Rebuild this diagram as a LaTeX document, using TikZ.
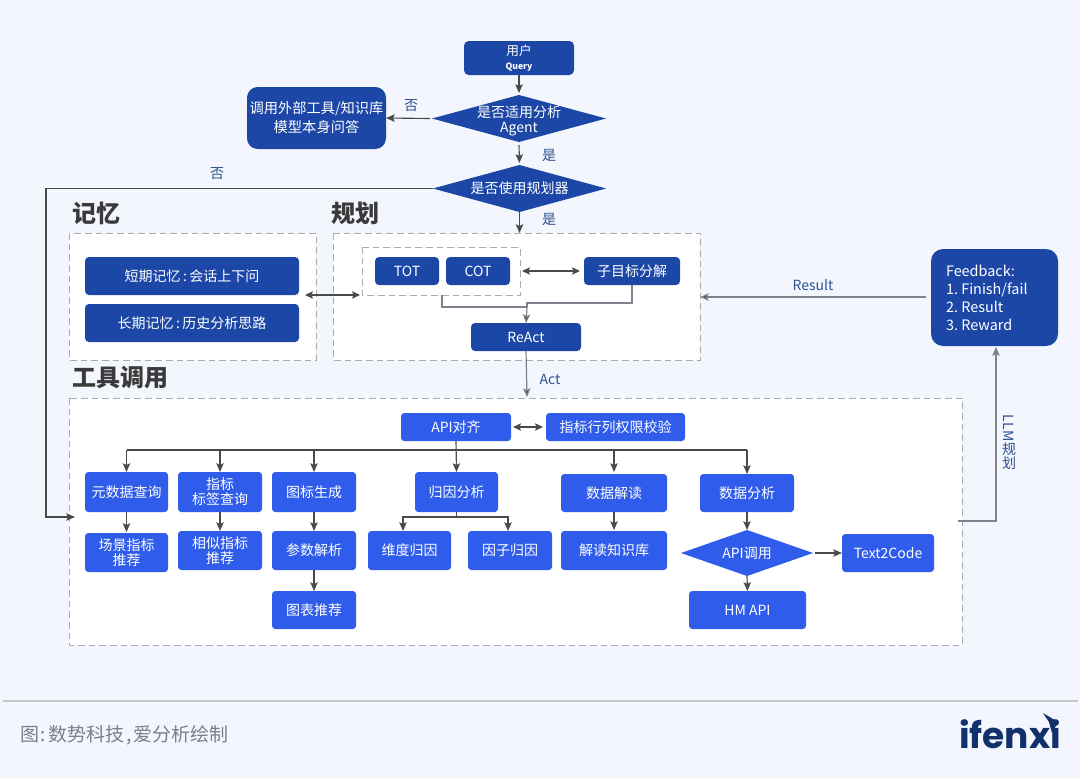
\documentclass[tikz,border=0pt]{standalone}
\usepackage{fontspec}
\setmainfont{Noto Sans CJK SC}
\newfontfamily\logofont{Poppins}
\usetikzlibrary{arrows.meta,shapes.geometric,calc}
\definecolor{bgc}{HTML}{F3F7FD}
\definecolor{deep}{HTML}{1D47A6}
\definecolor{bright}{HTML}{2F5CEB}
\definecolor{linec}{HTML}{4A4A4A}
\definecolor{softline}{HTML}{7D828C}
\definecolor{labelc}{HTML}{2F4F8F}
\definecolor{dashc}{HTML}{A9ABAE}
\definecolor{headc}{HTML}{3A3A3A}
\definecolor{footc}{HTML}{7A7F88}
\definecolor{logoc}{HTML}{12306B}
\newcommand{\fsize}[2]{\fontsize{#1}{#2}\selectfont}
\newcommand{\bx}[7]{% name, x1,y1,x2,y2, style, text
  \pgfmathsetmacro{\bw}{#4-#2}\pgfmathsetmacro{\bh}{#5-#3}
  \node[#6,minimum width=\bw*0.75pt,minimum height=\bh*0.75pt] (#1) at ({(#2+#4)/2},{(#3+#5)/2}) {#7};}
\tikzset{
  x=0.75pt,y=-0.75pt,
  every node/.style={inner sep=0pt,outer sep=0pt},
  txt/.style={text=white,align=center,font=\fsize{10.5pt}{11.2pt}},
  deepbox/.style={txt,fill=deep,rounded corners=3pt},
  deepbig/.style={txt,fill=deep,rounded corners=8pt,font=\fsize{10.7pt}{14.2pt}},
  fbbox/.style={text=white,fill=deep,rounded corners=9pt,align=left,text width=72.75pt,font=\fsize{10.8pt}{13.5pt}},
  brightbox/.style={txt,fill=bright,rounded corners=2.5pt},
  decision/.style={diamond},
  zone/.style={draw=dashc,fill=white,dash pattern=on 5pt off 3pt,line width=0.7pt},
  subzone/.style={draw=dashc,dash pattern=on 5pt off 3pt,line width=0.7pt},
  conn/.style={draw=linec,line width=0.85pt,-{Stealth[length=6.5pt,width=5.5pt,inset=1.2pt]}},
  plain/.style={draw=linec,line width=0.85pt},
  softplain/.style={draw=softline,line width=0.9pt},
  softconn/.style={draw=softline,line width=0.9pt,-{Stealth[length=6.5pt,width=5.5pt,inset=1.2pt,fill=linec]}},
  both/.style={draw=linec,line width=0.85pt,{Stealth[length=6pt,width=5.5pt,inset=1.2pt]}-{Stealth[length=6pt,width=5.5pt,inset=1.2pt]}},
  soft/.style={draw=softline,line width=1.1pt,-{Stealth[length=6.5pt,width=5.5pt,inset=1.2pt]}},
  tag/.style={text=labelc,font=\fsize{10.5pt}{11.2pt}},
  head/.style={text=headc,font=\bfseries\fsize{18pt}{20pt},anchor=west},
}
\begin{document}
\begin{tikzpicture}
\useasboundingbox (0,0) rectangle (1080,778);
\fill[bgc] (0,0) rectangle (1080,778);

% zones
\draw[zone] (69,233) rectangle (316,360);
\draw[zone] (333,233) rectangle (700,360);
\draw[zone] (69,398) rectangle (962,645);
\draw[subzone] (362,247) rectangle (520,295);
\coordinate (innerS) at (442,295);

\node[head] (hMem) at (72,213) {记忆};
\node[head] (hPlan) at (331,213) {规划};
\node[head] (hTool) at (72,378) {工具调用};

% top flow
\bx{user}{464}{41}{574}{75}{txt,fill=deep,rounded corners=3.5pt,font=\fsize{9.5pt}{12pt}}{用户\\[-2pt]{\fsize{6.5pt}{8pt}\bfseries Query}}
\node[decision,fill=deep,minimum width=130.5pt,minimum height=35.25pt] (d1) at (519,118.5) {};
\node[txt,yshift=-1.5pt] (d1t) at (d1.center) {是否适用分析\\Agent};
\node[decision,fill=deep,minimum width=130pt,minimum height=35.25pt] (d2) at (519.5,188.5) {};
\node[txt] (d2t) at (d2.center) {是否使用规划器};
\bx{ext}{247}{87}{386}{149}{deepbig}{调用外部工具/知识库\\模型本身问答}

\node[tag] (no1) at (411,106) {否};
\node[tag] (yes1) at (549,155) {是};
\node[tag] (yes2) at (549,219) {是};
\node[tag] (no2) at (217,174) {否};

% memory
\bx{short}{85}{257}{299}{295}{deepbox}{短期记忆\,:\,会话上下问}
\bx{long}{85}{304}{299}{342}{deepbox}{长期记忆\,:\,历史分析思路}
% planning
\bx{tot}{375}{257}{439}{285}{deepbox}{TOT}
\bx{cot}{446}{257}{510}{285}{deepbox}{COT}
\bx{sub}{584}{257}{680}{285}{deepbox}{子目标分解}
\bx{react}{471}{323}{581}{351}{deepbox}{ReAct}
% feedback
\bx{fb}{931}{249}{1058}{346}{fbbox}{Feedback:\\1.\kern2.5pt Finish/fail\\2.\kern2.5pt Result\\3.\kern2.5pt Reward}

% tools
\bx{api}{401}{413}{511}{441}{brightbox}{API对齐}
\bx{perm}{546}{413}{685}{441}{brightbox}{指标行列权限校验}
\bx{meta}{85}{472}{168}{512}{brightbox}{元数据查询}
\bx{tagq}{178}{472}{262}{512}{brightbox}{指标\\标签查询}
\bx{chart}{272}{472}{356}{512}{brightbox}{图标生成}
\bx{attr}{415}{472}{498}{512}{brightbox}{归因分析}
\bx{read}{561}{474}{667}{512}{brightbox}{数据解读}
\bx{ana}{700}{474}{794}{512}{brightbox}{数据分析}
\bx{scene}{85}{533}{168}{572}{brightbox}{场景指标\\推荐}
\bx{sim}{178}{531}{262}{570}{brightbox}{相似指标\\推荐}
\bx{param}{272}{531}{356}{570}{brightbox}{参数解析}
\bx{dim}{368}{531}{451}{570}{brightbox}{维度归因}
\bx{fac}{468}{531}{552}{570}{brightbox}{因子归因}
\bx{kb}{561}{531}{667}{570}{brightbox}{解读知识库}
\bx{rec}{272}{591}{356}{629}{brightbox}{图表推荐}
\bx{hm}{689}{591}{806}{629}{brightbox}{HM API}
\bx{t2c}{842}{534}{934}{572}{brightbox}{Text2Code}
\node[decision,fill=bright,minimum width=99pt,minimum height=34.5pt] (d3) at (747,553) {};
\node[txt] (d3t) at (d3.center) {API调用};

% connectors: top
\draw[conn] (user.south) -- ($(d1.north)+(0,-2)$);
\draw[conn] (d1.south) ++(0,3) -- ($(d2.north)+(0,-2)$);
\draw[conn] ($(d1.west)+(-2,0)$) -- (ext.east);
\coordinate (leftTurn) at (46,188.5);
\coordinate (toolEntry) at (75,517);
\draw[conn] (d2.west) -- (leftTurn) |- (toolEntry);
\coordinate (planN) at (519.5,233);
\draw[conn] (d2.south) -- (planN);

% memory <-> planning
\coordinate (memR) at (305,295);
\coordinate (planL) at (360,295);
\draw[both] (memR) -- (planL);

% planning
\coordinate (innerR) at (522,271);
\draw[both] (innerR) -- ($(sub.west)+(-4,0)$);
\coordinate (merge) at (527,307);
\draw[softplain] (innerS) |- (merge);
\draw[softplain] (sub.south) -- ++(0,18) -| (merge);
\draw[softconn] (merge) -- (react.north);
\coordinate (toolN) at (527,397);
\draw[softconn] (react.south) -- (toolN);
\node[tag] (actL) at (550,379) {Act};

% feedback
\coordinate (planE) at (700,297);
\coordinate (fbW) at (926,297);
\draw[softconn] (fbW) -- (planE);
\node[tag] (resL) at (813,285) {Result};
\coordinate (toolE) at (958,521);
\draw[soft] (toolE) -| ($(fb.south)+(1.5,1)$);
\node[tag,align=center] (llm) at (1009,442) {\rotatebox{-90}{LLM}\\[0pt]规\\[-1pt]划};

% tool bus
\draw[both] ($(api.east)+(2,0)$) -- ($(perm.west)+(-3,0)$);
\coordinate (busL) at (126.5,450);
\coordinate (busR) at (747,450);
\draw[plain] (busL) -- (busR);
\draw[conn] (api.south) -- (attr.north);
\draw[conn] (busL) -- (meta.north);
\draw[conn] (tagq.north |- busL) -- (tagq.north);
\draw[conn] (chart.north |- busL) -- (chart.north);
\draw[conn] (read.north |- busL) -- ($(read.north)+(0,-2)$);
\draw[conn] (ana.north |- busL) -- (ana.north);

\draw[conn] (meta.south) -- ($(scene.north)+(0,-1)$);
\draw[conn] (tagq.south) -- (sim.north);
\draw[conn] (chart.south) -- (param.north);
\draw[conn] (param.south) -- (rec.north);
\draw[conn] (read.south) -- ($(kb.north)+(0,-1)$);
\draw[conn] (ana.south) -- (d3.north);
\draw[conn] (d3.south) -- (hm.north);
\draw[conn] ($(d3.east)+(2,0)$) -- (t2c.west);
\coordinate (attrFork) at (456.5,517);
\draw[plain] (attr.south) -- (attrFork);
\draw[conn] (attrFork) -| ($(dim.north)+(-6.5,0)$);
\draw[conn] (attrFork) -| ($(fac.north)+(-2,0)$);

% footer
\coordinate (ruleL) at (3,701);
\coordinate (ruleR) at (1078,701);
\draw[draw=black!22,line width=0.8pt] (ruleL) -- (ruleR);
\node[anchor=west,text=footc,font=\fsize{14.25pt}{16pt}] (credit) at (20,735) {图\kern1.5pt:\kern1.5pt数势科技\kern1.5pt,\kern1.5pt爱分析绘制};
\node[anchor=west,text=logoc,font=\logofont\bfseries\fsize{27pt}{30pt}] (logo) at (959,734) {ifenxi};
\fill[logoc] (1043,713) -- (1058,722) -- (1052,733) -- (1049,722) -- cycle;
\end{tikzpicture}
\end{document}
